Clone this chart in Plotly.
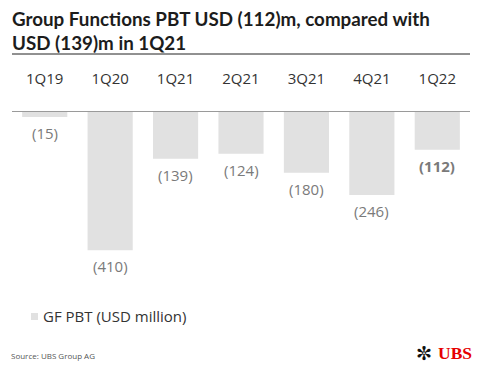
import plotly.graph_objects as go

categories = ["1Q19", "1Q20", "1Q21", "2Q21", "3Q21", "4Q21", "1Q22"]
pbt_values = [-15, -410, -139, -124, -180, -246, -112]
value_labels = ["(15)", "(410)", "(139)", "(124)", "(180)", "(246)", "<b>(112)</b>"]
series_name = "GF PBT (USD million)"

BAR_COLOR = "#e1e1e1"
TEXT_DARK = "#1c1c1c"
LABEL_GRAY = "#7a7a7a"

fig = go.Figure()
fig.add_trace(go.Bar(
    x=categories, y=pbt_values, name=series_name,
    marker=dict(color=BAR_COLOR, line=dict(width=0)),
    showlegend=False, hoverinfo="x+y",
))

annotations = []
for cat, val, lab in zip(categories, pbt_values, value_labels):
    annotations.append(dict(
        x=cat, y=val, xref="x", yref="y", text=lab, showarrow=False,
        yanchor="middle", yshift=-16,
        font=dict(family="Open Sans", size=15, color=LABEL_GRAY),
    ))

annotations += [
    dict(x=0, y=1, xref="paper", yref="paper", xanchor="left", yanchor="bottom",
         xshift=-2, yshift=56, align="left", showarrow=False,
         text="<b>Group Functions PBT USD (112)m, compared with<br>USD (139)m in 1Q21</b>",
         font=dict(family="Lato", size=18.8, color=TEXT_DARK)),
    # legend entry (text)
    dict(x=0, y=0, xref="paper", yref="paper", xanchor="left", yanchor="middle",
         xshift=29, yshift=-26, showarrow=False, text=series_name,
         font=dict(family="Open Sans", size=15, color="#333333")),
    dict(x=0, y=0, xref="paper", yref="paper", xanchor="left", yanchor="middle",
         xshift=-3, yshift=-65, showarrow=False, text="Source: UBS Group AG",
         font=dict(family="Open Sans", size=8, color="#555555")),
    dict(x=1, y=0, xref="paper", yref="paper", xanchor="right", yanchor="middle",
         xshift=4, yshift=-63, showarrow=False, text="<b>UBS</b>",
         font=dict(family="Liberation Serif", size=17.5, color="#e60000")),
    dict(x=1, y=0, xref="paper", yref="paper", xanchor="right", yanchor="middle",
         xshift=-36, yshift=-63, showarrow=False, text="✼",
         font=dict(family="DejaVu Sans", size=19, color="#111111")),
]

fig.update_layout(
    width=480, height=372,
    margin=dict(l=12, r=10, t=112, b=82),
    paper_bgcolor="white", plot_bgcolor="white",
    bargap=0.31,
    xaxis=dict(
        type="category", side="top", showline=True, linecolor="#9a9a9a", linewidth=1,
        ticks="", showgrid=False, zeroline=False,
        tickfont=dict(family="Open Sans", size=15, color="#333333"),
        ticklabelstandoff=21,
    ),
    yaxis=dict(range=[-528, 0], visible=False, showgrid=False, zeroline=False),
    showlegend=False,
    annotations=annotations,
    shapes=[
        dict(type="line", xref="paper", yref="paper", x0=0, x1=1,
             y0=1.3258, y1=1.3258, line=dict(color="#222222", width=1)),
        # legend swatch
        dict(type="rect", xref="paper", yref="paper",
             x0=(31 - 12) / 458, x1=(38 - 12) / 458,
             y0=(290 - 320) / 178, y1=(290 - 313) / 178,
             fillcolor=BAR_COLOR, line=dict(width=0)),
    ],
)

fig.write_html("out.html",
               config={"displayModeBar": False},
               post_script="document.body.style.margin='0';document.body.style.padding='0';")
